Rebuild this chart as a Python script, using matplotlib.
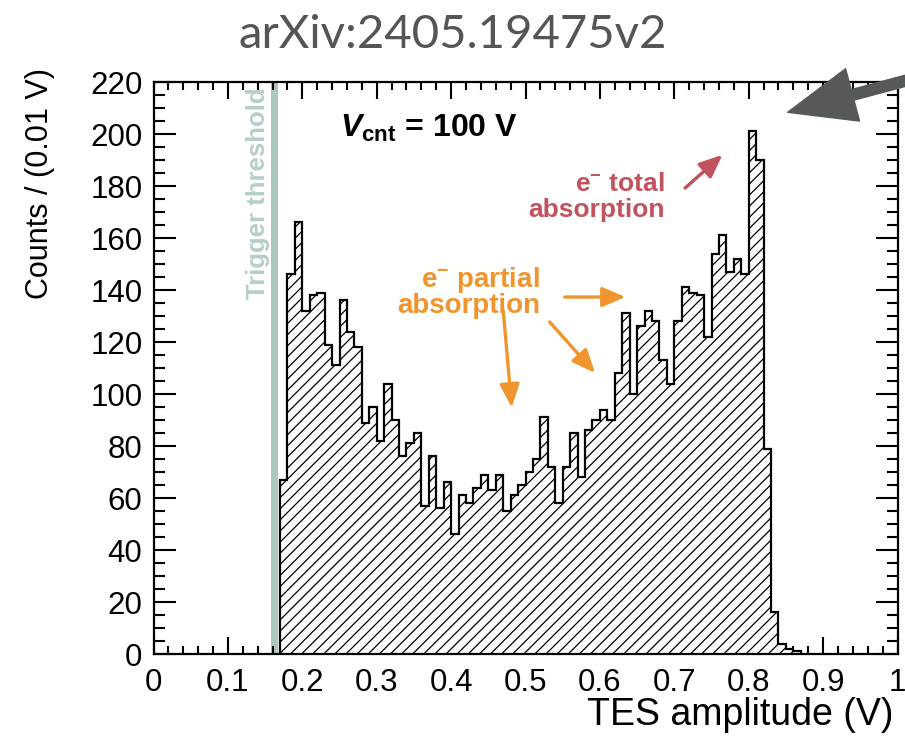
import numpy as np
import matplotlib.pyplot as plt
from matplotlib.patches import FancyArrowPatch
from matplotlib.ticker import MultipleLocator, FuncFormatter

plt.rcParams['font.family'] = ['Liberation Sans', 'DejaVu Sans']
plt.rcParams['mathtext.fontset'] = 'custom'
plt.rcParams['mathtext.rm'] = 'Liberation Sans:bold'
plt.rcParams['mathtext.it'] = 'Liberation Sans:bold:italic'
plt.rcParams['mathtext.bf'] = 'Liberation Sans:bold'
plt.rcParams['hatch.linewidth'] = 0.9

# counts per 0.01 V bin, first bin starts at 0.17 V
bin_start = 0.17
bin_width = 0.01
counts = [67, 146, 166, 132, 138, 139, 119, 111, 136, 124, 118, 89, 95,
          82, 104, 90, 76, 81, 85, 57, 76, 56, 66,
          46, 61, 58, 64, 69, 63, 69, 55, 61, 65,
          70, 75, 91, 72, 58, 72, 85, 68, 86, 90,
          94, 90, 108, 131, 100, 126, 132, 128, 113, 104,
          128, 141, 139, 138, 122, 154, 161, 147, 152, 146,
          201, 190, 79, 16, 4, 2, 1]
edges = bin_start + bin_width * np.arange(len(counts) + 1)

threshold = (0.158, 0.168)
x_ticks_major, x_ticks_minor = 0.1, 0.02
y_ticks_major, y_ticks_minor = 20, 5

orange = '#f0952d'
red = '#c2525d'
teal = '#a9c8c0'

fig = plt.figure(figsize=(9.05, 7.40), dpi=100)
ax = fig.add_axes([153.5 / 905, 1 - 654 / 740, 744 / 905, 572 / 740])

# hatched histogram + black outline
ax.stairs(counts, edges, fill=True, facecolor='white', edgecolor='black',
          hatch='///', linewidth=0, zorder=2)
ax.stairs(counts, edges, baseline=0, color='black', linewidth=1.6, zorder=3)

# trigger threshold band
ax.axvspan(*threshold, color=teal, lw=0, zorder=1)
ax.text(0.141, 218, 'Trigger threshold', rotation=90, ha='center', va='top',
        color='#b5cfc9', fontsize=18.5, fontweight='bold')

ax.text(0.2507, 202, r'$V_{\mathrm{cnt}}$ = 100 V', fontsize=23,
        fontweight='bold', va='center')

# annotations
ax.text(0.5195, 143.8, r'e$^{-}$ partial', color=orange, fontsize=20,
        fontweight='bold', ha='right', va='center')
ax.text(0.5195, 133.8, 'absorption', color=orange, fontsize=20,
        fontweight='bold', ha='right', va='center')
ax.text(0.6875, 180.6, r'e$^{-}$ total', color=red, fontsize=19,
        fontweight='bold', ha='right', va='center')
ax.text(0.6875, 170.6, 'absorption', color=red, fontsize=19,
        fontweight='bold', ha='right', va='center')

arrow_kw = dict(arrowstyle='-|>,head_length=0.7,head_width=0.3',
                mutation_scale=20, lw=2.4)
for start, end in [((0.549, 137.3), (0.638, 137.3)),
                   ((0.4698, 133.1), (0.4818, 93.8)),
                   ((0.530, 128.5), (0.596, 107.3))]:
    ax.annotate('', xy=end, xytext=start,
                arrowprops=dict(color=orange, **arrow_kw))
ax.annotate('', xy=(0.7675, 192.7), xytext=(0.7117, 178.5),
            arrowprops=dict(color=red, **arrow_kw))

# big pointer arrow at the top right
big = FancyArrowPatch((912 / 905, 661 / 740), (785 / 905, 627 / 740),
                      transform=fig.transFigure,
                      arrowstyle='simple,head_length=0.62,head_width=0.5,tail_width=0.1',
                      mutation_scale=78, color='#555a58', clip_on=False)
fig.add_artist(big)

ax.set_xlim(0, 1)
ax.set_ylim(0, 220)
ax.xaxis.set_major_locator(MultipleLocator(x_ticks_major))
ax.xaxis.set_minor_locator(MultipleLocator(x_ticks_minor))
ax.yaxis.set_major_locator(MultipleLocator(y_ticks_major))
ax.yaxis.set_minor_locator(MultipleLocator(y_ticks_minor))
ax.xaxis.set_major_formatter(FuncFormatter(lambda v, p: '%g' % round(v, 2)))
ax.tick_params(which='both', direction='in', top=True, right=True,
               width=1.5, labelsize=22.5)
ax.tick_params(axis='x', which='major', length=12, pad=10)
ax.tick_params(axis='x', which='minor', length=6)
ax.tick_params(axis='y', which='major', length=16, pad=8)
ax.tick_params(axis='y', which='minor', length=8)
for s in ax.spines.values():
    s.set_linewidth(1.6)

fig.text(40 / 905, 1 - 68 / 740, 'Counts / (0.01 V)', rotation=90,
         ha='center', va='top', fontsize=22)
fig.text(893 / 905, 1 - 715 / 740, 'TES amplitude (V)', ha='right',
         va='center', fontsize=27)
fig.text(0.5, 1 - 35 / 740, 'arXiv:2405.19475v2', ha='center', va='center',
         fontsize=34, color='#555555', family='Lato')

fig.savefig('out.png', dpi=100)
